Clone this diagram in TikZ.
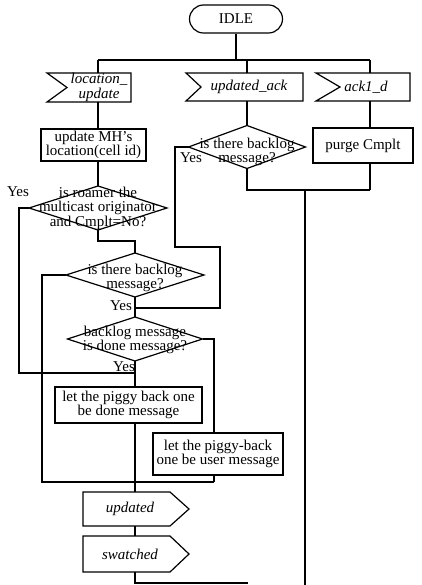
\documentclass[tikz,border=0pt]{standalone}
\usepackage{fontspec}
\setmainfont{Liberation Serif}
\usetikzlibrary{shapes.geometric,calc}
\begin{document}
\begin{tikzpicture}[x=1pt,y=-1pt,
  every node/.style={font=\fontsize{15}{14.5}\selectfont},
  wire/.style={line width=1.2pt},
  box/.style={draw, line width=1.2pt, rectangle, inner sep=0pt, align=center},
  frame/.style={inner sep=0pt, outer sep=0pt},
  dec/.style={draw, line width=1.2pt, diamond, inner sep=0pt, outer sep=0pt},
  txt/.style={inner sep=0pt, align=center},
  sig/.style={inner sep=0pt, align=center, font=\fontsize{15}{14.5}\selectfont\itshape}
]
\useasboundingbox (0,0) rectangle (421,585);

% start state
\node[box, rounded corners=14pt, minimum width=93pt, minimum height=28pt] (idle) at (236,19) {IDLE};

% input signals
\node[frame, minimum width=84pt, minimum height=29pt] (lu) at (89,87.5) {};
\draw[wire] (lu.north west) -- (lu.north east) -- (lu.south east) -- (lu.south west) -- ([xshift=20pt]lu.west) -- cycle;
\node[sig] (lut) at (99,87.5) {location\_\\update};

\node[frame, minimum width=117pt, minimum height=28pt] (ua) at (244.5,87) {};
\draw[wire] (ua.north west) -- (ua.north east) -- (ua.south east) -- (ua.south west) -- ([xshift=15pt]ua.west) -- cycle;
\node[sig] (uat) at (249,87) {updated\_ack};

\node[frame, minimum width=94pt, minimum height=28pt] (ak) at (363,87) {};
\draw[wire] (ak.north west) -- (ak.north east) -- (ak.south east) -- (ak.south west) -- ([xshift=24pt]ak.west) -- cycle;
\node[sig] (akt) at (366,87) {ack1\_d};

% tasks
\node[box, minimum width=105pt, minimum height=32pt] (upd) at (93.5,145) {update MH's\\location(cell id)};
\node[box, minimum width=100pt, minimum height=35pt] (purge) at (363,145.5) {purge Cmplt};
\node[box, minimum width=147pt, minimum height=36pt] (done) at (128.5,405) {let the piggy back one\\be done message};
\node[box, minimum width=130pt, minimum height=42pt] (user) at (218,454) {let the piggy-back\\one be user message};

% decisions
\node[dec, minimum width=138pt, minimum height=44pt] (d1) at (98,208) {};
\node[txt] (d1t) at (98,208) {is roamer the\\multicast originator\\and Cmplt=No?};
\node[dec, minimum width=117pt, minimum height=43pt] (dua) at (247,147) {};
\node[txt] (duat) at (247,152) {is there backlog\\message?};
\node[dec, minimum width=138pt, minimum height=44pt] (d2) at (135,275) {};
\node[txt] (d2t) at (135,278) {is there backlog\\message?};
\node[dec, minimum width=135pt, minimum height=44pt] (d3) at (135,339) {};
\node[txt] (d3t) at (135,340) {backlog message\\is done message?};

% output signals
\node[frame, minimum width=106pt, minimum height=34pt] (out1) at (136,509) {};
\draw[wire] (out1.north west) -- ([xshift=-19pt]out1.north east) -- (out1.east) -- ([xshift=-19pt]out1.south east) -- (out1.south west) -- cycle;
\node[sig] (out1t) at (130,509) {updated};
\node[frame, minimum width=106pt, minimum height=36pt] (out2) at (136,554) {};
\draw[wire] (out2.north west) -- ([xshift=-19pt]out2.north east) -- (out2.east) -- ([xshift=-19pt]out2.south east) -- (out2.south west) -- cycle;
\node[sig] (out2t) at (130,554) {swatched};

% branch labels
\node[txt] (y1) at (18,192) {Yes};
\node[txt] (y2) at (191,158) {Yes};
\node[txt] (y3) at (121,306) {Yes};
\node[txt] (y4) at (124,367) {Yes};

% junction points
\coordinate (jl) at (98,60);
\coordinate (jm) at (247,60);
\coordinate (jr) at (370,60);
\coordinate (yl) at (19,373);
\coordinate (bl) at (42,482);
\coordinate (br) at (214,482);
\coordinate (ya) at (175,247);
\coordinate (yb) at (220,308);
\coordinate (rj) at (370,190);
\coordinate (lt) at (305,190);
\coordinate (lb) at (305,585);
\coordinate (be) at (248,583);

% connectors
\draw[wire] (idle.south) -- (idle.south |- jl);
\draw[wire] (jl) -- (jr);
\draw[wire] (jl) -- (jl |- lu.north);
\draw[wire] (jm) -- (jm |- ua.north);
\draw[wire] (jr) -- (jr |- ak.north);

\draw[wire] (jl |- lu.south) -- (jl |- upd.north);
\draw[wire] (jl |- upd.south) -- (d1.north);
\draw[wire] (d1.south) -- ++(0,11) -| (d2.north);
\draw[wire] (d1.west) -| (yl) -- (yl -| d3.south);
\draw[wire] (d2.west) -| (bl) -- (br);
\draw[wire] (d2.south) -- (d3.north);
\draw[wire] (d3.south) -- (d3.south |- done.north);
\draw[wire] (d3.east) -| (br |- user.north);
\draw[wire] (br |- user.south) -- (br);
\draw[wire] (d3.south |- done.south) -- (d3.south |- out1.north);
\draw[wire] (d3.south |- out1.south) -- (d3.south |- out2.north);
\draw[wire] (d3.south |- out2.south) |- (be);

\draw[wire] (jm |- ua.south) -- (dua.north);
\draw[wire] (dua.west) -| (ya) -| (yb) -- (yb -| d3.north);
\draw[wire] (dua.south) |- (rj);
\draw[wire] (jr |- ak.south) -- (jr |- purge.north);
\draw[wire] (jr |- purge.south) -- (rj);
\draw[wire] (lt) -- (lb);
\end{tikzpicture}
\end{document}
